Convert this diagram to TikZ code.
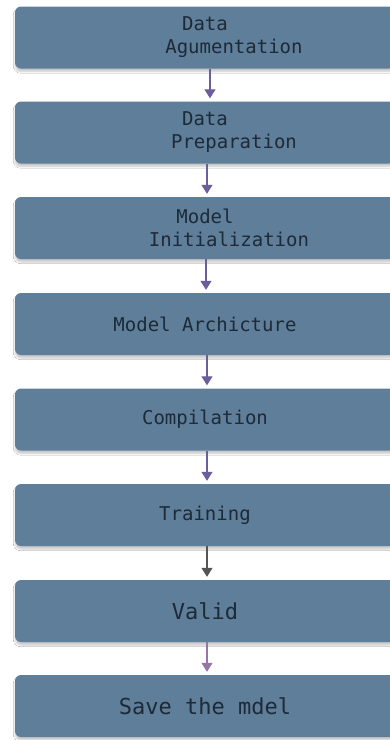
\documentclass[tikz,border=0pt]{standalone}
\usepackage{fontspec}
\setmonofont{DejaVu Sans Mono}
\usetikzlibrary{arrows.meta,shadows.blur}

\definecolor{stagefill}{HTML}{5F7E99}
\definecolor{stagetext}{HTML}{1D2A37}
\definecolor{flowpurple}{HTML}{6C5E9C}
\definecolor{flowgray}{HTML}{555555}
\definecolor{flowpink}{HTML}{9676A8}

\tikzset{
  stage/.style={rectangle,rounded corners=6pt,fill=stagefill,
    minimum width=380pt,minimum height=62pt,inner sep=0pt,
    text=stagetext,align=center,
    font=\ttfamily\fontsize{19}{23}\selectfont,
    blur shadow={shadow xshift=0pt,shadow yshift=-3pt,
      shadow opacity=22,shadow blur steps=6}},
  bigstage/.style={stage,font=\ttfamily\fontsize{22}{26}\selectfont},
  flow/.style={-{Triangle[width=11pt,length=9pt]},line width=1.3pt,
    draw=flowpurple,shorten >=3pt}
}

\begin{document}
\begin{tikzpicture}[x=1pt,y=-1pt]
  \useasboundingbox (0,0) rectangle (390,740);
  \clip (0,0) rectangle (390,740);
  \fill[white] (0,0) rectangle (390,740);

  % pipeline stages, top to bottom
  \node[stage] (augment) at (205,37.5) {Data\\\hspace*{58pt}Agumentation};
  \node[stage] (prep) at (205,132.5) {Data\\\hspace*{58pt}Preparation};
  \node[stage] (init) at (205,228) {Model\\\hspace*{48pt}Initialization};
  \node[stage] (arch) at (205,324) {Model Archicture};
  \node[stage] (compile) at (205,419.5) {Compilation};
  \node[stage] (train) at (205,515) {Training};
  \node[bigstage] (valid) at (205,611) {Valid};
  \node[bigstage] (save) at (205,706) {Save the mdel};

  % arrows between stages
  \draw[flow] ([xshift=5pt]augment.south) -- ([xshift=5pt]prep.north);
  \draw[flow] ([xshift=2pt]prep.south) -- ([xshift=2pt]init.north);
  \draw[flow] ([xshift=1pt]init.south) -- ([xshift=1pt]arch.north);
  \draw[flow] ([xshift=2pt]arch.south) -- ([xshift=2pt]compile.north);
  \draw[flow] ([xshift=2pt]compile.south) -- ([xshift=2pt]train.north);
  \draw[flow,draw=flowgray] ([xshift=2pt]train.south) -- ([xshift=2pt]valid.north);
  \draw[flow,draw=flowpink] ([xshift=2pt]valid.south) -- ([xshift=2pt]save.north);
\end{tikzpicture}
\end{document}
